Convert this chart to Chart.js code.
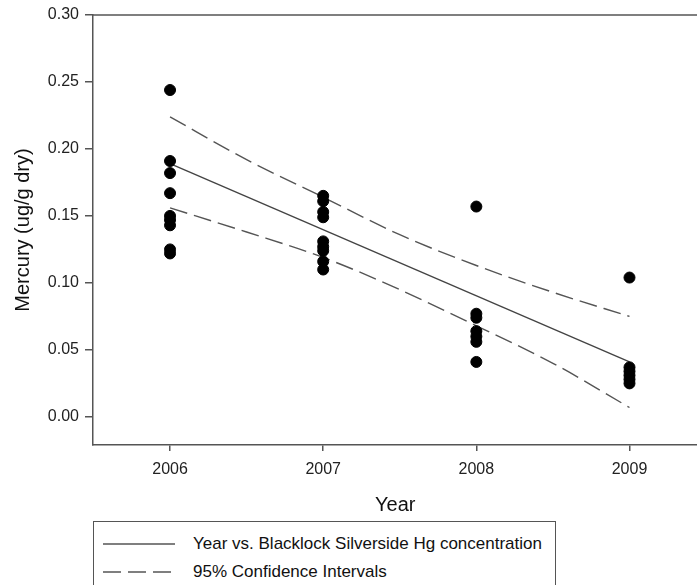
<!DOCTYPE html>
<html>
<head>
<meta charset="utf-8">
<script src="https://cdn.jsdelivr.net/npm/chart.js@4/dist/chart.umd.min.js"></script>
<style>
  body { margin: 0; background: #fff; font-family: "Liberation Sans", Arial, sans-serif; }
  #wrap { position: relative; width: 697px; height: 585px; overflow: hidden; }
  #chart { display: block; }
  #legend {
    position: absolute; left: 93px; top: 521px; width: 461px; height: 80px;
    border: 1.5px solid #555; background: #fff; font-size: 17px; color: #111;
  }
  .row { position: absolute; left: 9px; height: 20px; display: flex; align-items: center; }
  .row svg { width: 72px; height: 4px; margin-right: 18px; }
</style>
</head>
<body>
<div id="wrap">
  <!-- canvas a bit wider than the window: the frame runs off the right edge as in the reference -->
  <canvas id="chart" width="704" height="585"></canvas>
  <div id="legend">
    <div class="row" style="top: 12px;">
      <svg><line x1="0" y1="2" x2="72" y2="2" stroke="#555" stroke-width="1.5"/></svg>
      <span>Year vs. Blacklock Silverside Hg concentration</span>
    </div>
    <div class="row" style="top: 40px;">
      <svg><line x1="0" y1="2" x2="72" y2="2" stroke="#555" stroke-width="1.5" stroke-dasharray="18,7"/></svg>
      <span>95% Confidence Intervals</span>
    </div>
  </div>
</div>
<script>
// observed samples (mercury ug/g dry) per year
const years2006 = [0.244, 0.191, 0.182, 0.167, 0.150, 0.147, 0.143, 0.125, 0.122];
const years2007 = [0.165, 0.161, 0.153, 0.149, 0.131, 0.127, 0.124, 0.116, 0.110];
const years2008 = [0.157, 0.077, 0.074, 0.064, 0.060, 0.056, 0.041];
const years2009 = [0.104, 0.037, 0.034, 0.031, 0.028, 0.025];

// regression line and confidence band
const fitYears = [2006, 2009];
const fitValues = [0.189, 0.041];
const ciYears = [2006, 2006.5, 2007, 2007.5, 2008, 2008.5, 2009];
const ciUpper = [0.224, 0.192, 0.164, 0.136, 0.113, 0.093, 0.075];
const ciLower = [0.156, 0.138, 0.119, 0.095, 0.068, 0.040, 0.007];

const xTicks = [2006, 2007, 2008, 2009];
const yTicks = [0, 0.05, 0.10, 0.15, 0.20, 0.25, 0.30];

const points = [];
[[2006, years2006], [2007, years2007], [2008, years2008], [2009, years2009]].forEach(([yr, vals]) => {
  vals.forEach((v) => points.push({ x: yr, y: v }));
});

const toXY = (xs, ys) => xs.map((x, i) => ({ x, y: ys[i] }));

const topBorder = {
  id: 'topBorder',
  afterDraw: (chart) => {
    const { ctx, chartArea } = chart;
    ctx.save();
    ctx.strokeStyle = '#555';
    ctx.lineWidth = 1.5;
    ctx.beginPath();
    ctx.moveTo(chartArea.left, chartArea.top);
    ctx.lineTo(chartArea.right, chartArea.top);
    ctx.stroke();
    ctx.restore();
  }
};

const FONT = '"Liberation Sans", Arial, sans-serif';
const tickFont = { family: FONT, size: 16 };

new Chart(document.getElementById('chart'), {
  type: 'scatter',
  data: {
    datasets: [
      {
        label: 'Samples',
        data: points,
        backgroundColor: '#000',
        borderColor: '#000',
        pointRadius: 5.5,
        pointHoverRadius: 5.5
      },
      {
        type: 'line',
        label: 'Year vs. Blacklock Silverside Hg concentration',
        data: toXY(fitYears, fitValues),
        borderColor: '#444',
        borderWidth: 1.4,
        pointRadius: 0,
        fill: false
      },
      {
        type: 'line',
        label: '95% Confidence Intervals',
        data: toXY(ciYears, ciUpper),
        borderColor: '#555',
        borderWidth: 1.4,
        borderDash: [18, 7],
        pointRadius: 0,
        cubicInterpolationMode: 'monotone',
        fill: false
      },
      {
        type: 'line',
        label: '95% Confidence Intervals (lower)',
        data: toXY(ciYears, ciLower),
        borderColor: '#555',
        borderWidth: 1.4,
        borderDash: [18, 7],
        pointRadius: 0,
        cubicInterpolationMode: 'monotone',
        fill: false
      }
    ]
  },
  options: {
    responsive: false,
    animation: false,
    layout: { padding: { top: 15, right: 0, bottom: 68, left: 0 } },
    plugins: { legend: { display: false }, tooltip: { enabled: false } },
    scales: {
      x: {
        type: 'linear',
        min: 2005.497,
        max: 2009.444,
        afterBuildTicks: (scale) => { scale.ticks = xTicks.map((v) => ({ value: v })); },
        afterFit: (scale) => { scale.height = 72; scale.paddingLeft = 0; scale.paddingRight = 0; },
        grid: { drawOnChartArea: false, drawTicks: true, tickLength: 6, color: '#555', lineWidth: 1.5 },
        border: { display: true, color: '#555', width: 1.5 },
        ticks: { color: '#222', font: tickFont, padding: 9, maxRotation: 0, callback: (v) => String(v) },
        title: {
          display: true, text: 'Year', color: '#111',
          font: { family: FONT, size: 20 },
          padding: { top: 0, bottom: 0 }
        }
      },
      y: {
        min: -0.021,
        max: 0.30,
        afterBuildTicks: (scale) => { scale.ticks = yTicks.map((v) => ({ value: v })); },
        afterFit: (scale) => { scale.width = 93; scale.paddingTop = 0; scale.paddingBottom = 0; },
        grid: { drawOnChartArea: false, drawTicks: true, tickLength: 8, color: '#555', lineWidth: 1.5 },
        border: { display: true, color: '#555', width: 1.5 },
        ticks: { color: '#222', font: tickFont, padding: 6, callback: (v) => v.toFixed(2) },
        title: {
          display: true, text: 'Mercury (ug/g dry)', color: '#111',
          font: { family: FONT, size: 20 },
          padding: { top: 11, bottom: 0 }
        }
      }
    }
  },
  plugins: [topBorder]
});
</script>
</body>
</html>
